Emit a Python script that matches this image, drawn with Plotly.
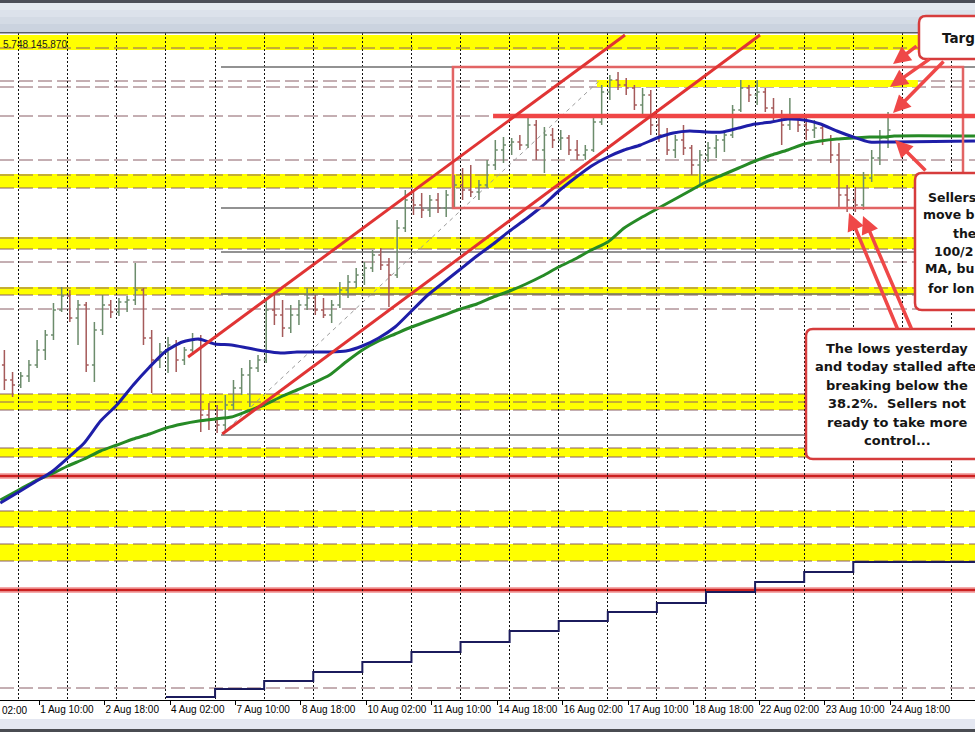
import plotly.graph_objects as go

# ---------------- data (USDJPY, 4-hour bars) ----------------
# x axis is an hourly bar index: 0 = 1 Aug 00:00, weekends removed
BAR0 = -7
BAR_STEP = 4

opens = [142.245, 142.02, 141.945, 142.08, 142.245, 142.47, 142.695, 143.07, 143.28, 142.95,
         143.145, 142.245, 142.77, 143.145, 143.04, 143.19, 143.22, 143.37, 142.65, 142.32,
         142.44, 142.545, 142.32, 142.47, 142.62, 141.495, 141.42, 141.345, 141.645, 141.90,
         142.095, 142.20, 142.32, 143.07, 142.995, 142.80, 142.995, 143.145, 143.25, 143.07,
         142.995, 143.145, 143.37, 143.49, 143.595, 143.70, 143.895, 143.745, 143.595, 144.30,
         144.72, 144.645, 144.57, 144.72, 144.60, 144.795, 144.945, 144.87, 144.84, 144.945,
         145.245, 145.47, 145.545, 145.59, 145.545, 145.845, 145.47, 145.695, 145.62, 145.65,
         145.47, 145.395, 145.47, 145.89, 146.34, 146.52, 146.445, 146.40, 146.145, 146.295,
         145.845, 145.695, 145.47, 145.62, 145.50, 145.245, 145.395, 145.50, 145.62, 145.695,
         146.07, 146.40, 146.295, 146.34, 146.10, 145.995, 145.845, 145.95, 145.845, 145.77,
         145.80, 145.62, 145.395, 144.795, 144.72, 144.645, 145.05, 145.35, 145.65]
highs = [142.47, 142.14, 142.14, 142.32, 142.62, 142.77, 143.175, 143.415, 143.37, 143.22,
         143.19, 142.89, 143.295, 143.22, 143.25, 143.28, 143.775, 143.40, 142.77, 142.575,
         142.665, 142.62, 142.515, 142.725, 142.695, 141.675, 141.645, 141.795, 142.02, 142.20,
         142.32, 142.395, 143.22, 143.295, 143.22, 143.145, 143.22, 143.40, 143.295, 143.25,
         143.22, 143.49, 143.595, 143.70, 143.79, 143.97, 144.00, 143.85, 144.42, 144.87,
         144.84, 144.825, 144.795, 144.825, 144.87, 145.095, 145.20, 145.245, 145.02, 145.32,
         145.62, 145.665, 145.65, 145.695, 145.95, 145.92, 145.815, 145.80, 145.77, 145.695,
         145.62, 145.545, 145.965, 146.445, 146.595, 146.64, 146.55, 146.445, 146.40, 146.37,
         145.95, 145.80, 145.695, 145.845, 145.545, 145.47, 145.59, 145.695, 145.77, 146.145,
         146.52, 146.445, 146.52, 146.40, 146.25, 146.07, 146.25, 145.995, 145.95, 145.92,
         145.845, 145.695, 145.575, 144.945, 144.915, 145.14, 145.47, 145.77, 146.04]
lows = [141.87, 141.765, 141.90, 141.99, 142.20, 142.32, 142.62, 143.04, 142.89, 142.545,
        142.14, 141.99, 142.695, 142.95, 142.98, 143.04, 143.145, 142.545, 141.825, 142.20,
        142.125, 142.14, 142.245, 142.395, 141.24, 141.27, 141.225, 141.225, 141.57, 141.795,
        141.615, 142.14, 142.275, 142.845, 142.665, 142.725, 142.845, 143.07, 142.995, 142.95,
        142.875, 143.10, 143.25, 143.40, 143.445, 143.64, 143.67, 143.115, 143.55, 144.24,
        144.495, 144.45, 144.465, 144.525, 144.465, 144.615, 144.72, 144.765, 144.72, 144.90,
        145.17, 145.275, 145.395, 145.47, 145.50, 145.32, 145.125, 145.50, 145.47, 145.395,
        145.32, 145.32, 145.44, 145.845, 146.22, 146.37, 146.295, 146.07, 145.995, 145.695,
        145.59, 145.395, 145.35, 145.395, 145.095, 144.945, 145.29, 145.35, 145.44, 145.65,
        146.04, 146.19, 146.145, 146.04, 145.89, 145.545, 145.77, 145.74, 145.62, 145.65,
        145.545, 145.275, 144.615, 144.54, 144.54, 144.57, 144.99, 145.245, 145.50]
closes = [142.02, 141.945, 142.08, 142.245, 142.47, 142.695, 143.07, 143.28, 142.95, 143.145,
          142.245, 142.77, 143.145, 143.04, 143.19, 143.22, 143.37, 142.65, 142.32, 142.44,
          142.545, 142.32, 142.47, 142.62, 141.495, 141.42, 141.345, 141.645, 141.90, 142.095,
          142.20, 142.32, 143.07, 142.995, 142.80, 142.995, 143.145, 143.25, 143.07, 142.995,
          143.145, 143.37, 143.49, 143.595, 143.70, 143.895, 143.745, 143.595, 144.30, 144.72,
          144.645, 144.57, 144.72, 144.60, 144.795, 144.945, 144.87, 144.84, 144.945, 145.245,
          145.47, 145.545, 145.59, 145.545, 145.845, 145.47, 145.695, 145.62, 145.65, 145.47,
          145.395, 145.47, 145.89, 146.34, 146.52, 146.445, 146.40, 146.145, 146.295, 145.845,
          145.695, 145.47, 145.62, 145.50, 145.245, 145.395, 145.50, 145.62, 145.695, 146.07,
          146.40, 146.295, 146.34, 146.10, 145.995, 145.845, 145.95, 145.845, 145.77, 145.80,
          145.62, 145.395, 144.795, 144.72, 144.645, 145.05, 145.35, 145.65, 145.77]

# moving averages (100-hour blue, 200-hour green), sampled every 8 hourly bars
ma_x = [-9] + list(range(0, 425, 8)) + [428, 467.5]
ma100 = [140.175, 140.34, 140.49, 140.64, 140.85, 141.075, 141.405, 141.645, 141.945, 142.215,
         142.455, 142.59, 142.635, 142.56, 142.545, 142.50, 142.455, 142.425, 142.44, 142.44,
         142.44, 142.455, 142.53, 142.65, 142.815, 143.055, 143.295, 143.49, 143.685, 143.88,
         144.06, 144.255, 144.435, 144.63, 144.855, 145.05, 145.23, 145.365, 145.47, 145.545,
         145.65, 145.725, 145.755, 145.74, 145.74, 145.80, 145.86, 145.89, 145.935, 145.92,
         145.86, 145.755, 145.665, 145.59, 145.59, 145.59, 145.605]
ma200 = [140.22, 140.37, 140.505, 140.61, 140.73, 140.835, 140.955, 141.045, 141.135, 141.21,
         141.30, 141.36, 141.405, 141.435, 141.465, 141.555, 141.645, 141.765, 141.87, 141.975,
         142.095, 142.29, 142.47, 142.605, 142.71, 142.815, 142.905, 142.995, 143.085, 143.16,
         143.265, 143.355, 143.46, 143.58, 143.715, 143.835, 143.97, 144.09, 144.30, 144.45,
         144.585, 144.72, 144.855, 144.99, 145.095, 145.20, 145.305, 145.395, 145.47, 145.56,
         145.605, 145.635, 145.65, 145.665, 145.665, 145.68, 145.68]

# daily stepped indicator at the bottom
daily_x = list(range(72, 409, 24)) + [467.5]
daily_level = [137.265, 137.385, 137.505, 137.64, 137.79, 137.94, 138.09, 138.255, 138.405,
               138.54, 138.675, 138.84, 138.99, 139.14, 139.29]

# time axis
tick_idx = list(range(10, 427, 32))
tick_text = ["1 Aug 10:00", "2 Aug 18:00", "4 Aug 02:00", "7 Aug 10:00", "8 Aug 18:00",
             "10 Aug 02:00", "11 Aug 10:00", "14 Aug 18:00", "16 Aug 02:00", "17 Aug 10:00",
             "18 Aug 18:00", "22 Aug 02:00", "23 Aug 10:00", "24 Aug 18:00"]
first_tick_text = "02:00"            # visible part of the label cut by the left edge
day_idx = list(range(0, 467, 24))
X_RANGE = [-9.142, 467.51]
Y_RANGE = [137.22, 147.225]

# horizontal levels
yellow_bands = [(146.97, 147.195), (144.90, 145.11), (143.985, 144.165), (143.295, 143.415),
                (141.57, 141.81), (140.865, 141.00), (139.815, 140.055), (139.305, 139.56)]
partial_band = (146.415, 146.52, 282.7, 439.6)        # low, high, from bar, to bar
dash_levels = [147.00, 146.505, 146.415, 145.98, 145.32, 145.095, 144.90, 144.15, 143.985,
               143.79, 143.40, 143.295, 143.085, 141.81, 141.69, 141.57, 141.00, 140.865,
               140.055, 139.815, 139.56, 139.305, 137.40]
fib_start = 98.9
fib_levels = [146.715, 144.60, 143.94, 143.31, 141.195]
red_levels = [140.58, 138.87]
target_level, target_start = 145.98, 231.9
range_box = (212.3, 461.65, 144.60, 146.715)           # x0, x1, y0, y1
channel_upper = [(82.8, 142.365), (296.4, 147.195)]
channel_lower = [(99.5, 141.21), (362.4, 147.195)]
fib_diag = [(99.4, 141.21), (284.2, 146.52)]

# ---------------- layout helpers (pixel -> paper) ----------------
W, H = 975, 732
TOP, BOT = 33, 700


def px(x):
    return x / W


def py(y):
    return 1 - (y - TOP) / (BOT - TOP)


def rrect(x0, y0, x1, y1, r=7):
    def P(x, y):
        return f"{px(x):.5f},{py(y):.5f}"
    return (f"M {P(x0 + r, y0)} L {P(x1 - r, y0)} Q {P(x1, y0)} {P(x1, y0 + r)} "
            f"L {P(x1, y1 - r)} Q {P(x1, y1)} {P(x1 - r, y1)} L {P(x0 + r, y1)} "
            f"Q {P(x0, y1)} {P(x0, y1 - r)} L {P(x0, y0 + r)} Q {P(x0, y0)} {P(x0 + r, y0)} Z")


bar_x = [BAR0 + BAR_STEP * k for k in range(len(closes))]

fig = go.Figure()
fig.add_trace(go.Ohlc(x=bar_x, open=opens, high=highs, low=lows, close=closes,
                      increasing=dict(line=dict(color="#6c8c6c", width=1.5)),
                      decreasing=dict(line=dict(color="#a55a5a", width=1.5)),
                      tickwidth=0.3, showlegend=False, hoverinfo="skip"))
fig.add_trace(go.Scatter(x=ma_x, y=ma200, mode="lines", showlegend=False, hoverinfo="skip",
                         line=dict(color="#268a26", width=3, shape="spline", smoothing=0.6)))
fig.add_trace(go.Scatter(x=ma_x, y=ma100, mode="lines", showlegend=False, hoverinfo="skip",
                         line=dict(color="#1e1ea8", width=3, shape="spline", smoothing=0.6)))
fig.add_trace(go.Scatter(x=daily_x, y=daily_level + [daily_level[-1]], mode="lines",
                         showlegend=False, hoverinfo="skip",
                         line=dict(color="#1b1b5c", width=2, shape="hv")))

shapes = []
# header / footer chrome
header = [(0, 3, "#4c4f58"), (3, 10, "#e4e9f0"), (10, 17, "#dce2eb"), (17, 24, "#d4dbe5"),
          (24, 32, "#cbd3df"), (32, 33.5, "#5a5f68")]
for y0, y1, c in header:
    shapes.append(dict(type="rect", xref="paper", yref="paper", x0=0, x1=1, y0=py(y1), y1=py(y0),
                       fillcolor=c, line=dict(width=0), layer="above"))
footer = [(719, 729, "#e4e7f1"), (729, 732, "#4a4c52")]
for y0, y1, c in footer:
    shapes.append(dict(type="rect", xref="paper", yref="paper", x0=0, x1=1, y0=py(y1), y1=py(y0),
                       fillcolor=c, line=dict(width=0), layer="below"))

for lo, hi in yellow_bands:
    shapes.append(dict(type="rect", xref="paper", yref="y", x0=0, x1=1, y0=lo, y1=hi,
                       fillcolor="#ffff00", line=dict(width=0), layer="below"))
lo, hi, b0, b1 = partial_band
shapes.append(dict(type="rect", xref="x", yref="y", x0=b0, x1=b1, y0=lo, y1=hi,
                   fillcolor="#ffff00", line=dict(width=0), layer="below"))
for lv in dash_levels:
    shapes.append(dict(type="line", xref="paper", yref="y", x0=0, x1=1, y0=lv, y1=lv,
                       line=dict(color="#8a5f66", width=1, dash="14px,5px"), layer="below"))
for lv in fib_levels:
    shapes.append(dict(type="line", xref="x", yref="y", x0=fib_start, x1=X_RANGE[1], y0=lv, y1=lv,
                       line=dict(color="#6e6e6e", width=1.6), layer="between"))
for lv in red_levels:
    shapes.append(dict(type="line", xref="paper", yref="y", x0=0, x1=1, y0=lv, y1=lv,
                       line=dict(color="#f5aaaa", width=6), layer="between"))
    shapes.append(dict(type="line", xref="paper", yref="y", x0=0, x1=1, y0=lv, y1=lv,
                       line=dict(color="#cc2020", width=2.5), layer="between"))
(a, b) = fib_diag
shapes.append(dict(type="line", xref="x", yref="y", x0=a[0], y0=a[1], x1=b[0], y1=b[1],
                   line=dict(color="#9c9c9c", width=1, dash="4px,4px"), layer="between"))
shapes.append(dict(type="rect", xref="x", yref="y", x0=range_box[0], x1=range_box[1],
                   y0=range_box[2], y1=range_box[3], line=dict(color="#e26464", width=2.5),
                   layer="above"))
shapes.append(dict(type="line", xref="x", yref="y", x0=target_start, x1=X_RANGE[1],
                   y0=target_level, y1=target_level, line=dict(color="#f04646", width=4.5),
                   layer="above"))
for (a, b) in (channel_upper, channel_lower):
    shapes.append(dict(type="line", xref="x", yref="y", x0=a[0], y0=a[1], x1=b[0], y1=b[1],
                       line=dict(color="#e03434", width=3), layer="above"))

# note boxes
for (x0, y0, x1, y1) in [(919, 16, 1060, 59), (915, 173, 1060, 310), (806, 329, 1000, 459)]:
    shapes.append(dict(type="path", xref="paper", yref="paper", path=rrect(x0, y0, x1, y1),
                       fillcolor="white", line=dict(color="#d63c3c", width=2.5), layer="above"))

ann = []
# arrows (head -> tail, pixels)
arrows = [((893, 64), (918, 45)), ((890, 87), (931, 58)), ((893, 113), (945, 60)),
          ((895, 140), (927, 172)), ((849, 213), (898, 330)), ((863, 216), (912, 330))]
for (hx, hy), (tx, ty) in arrows:
    ann.append(dict(x=px(hx), y=py(hy), xref="paper", yref="paper", ax=tx - hx, ay=ty - hy,
                    axref="pixel", ayref="pixel", text="", showarrow=True, arrowhead=2,
                    arrowsize=1.0, arrowwidth=3.5, arrowcolor="#ef4848", standoff=0))

BF = dict(family="DejaVu Sans", size=13, color="#151515")
SF = dict(family="DejaVu Sans", size=12.5, color="#151515")
ann.append(dict(x=px(940), y=py(38), xref="paper", yref="paper", xanchor="left", yanchor="middle",
                text="<b>Targ</b>", showarrow=False,
                font=dict(family="DejaVu Sans", size=13.5, color="#151515")))
# the notes run past the right edge of the screenshot: only their visible parts are kept
sellers_lines = [("Sellers", 926, 197), ("move b", 921, 215), ("the", 951, 233),
                 ("100/2", 932, 251), ("MA, bu", 923, 269), ("for lon", 926, 288)]
for t, x, y in sellers_lines:
    ann.append(dict(x=px(x), y=py(y), xref="paper", yref="paper", xanchor="left",
                    yanchor="middle", text=f"<b>{t}</b>", showarrow=False, font=SF))
lows_lines = [("The lows yesterday", "center", 897, 348),
              ("and today stalled afte", "left", 813, 366),
              ("breaking below the", "center", 897, 385),
              ("38.2%.&nbsp; Sellers not", "center", 897, 403),
              ("ready to take more", "center", 897, 422),
              ("control...", "center", 897, 440)]
for t, anc, x, y in lows_lines:
    ann.append(dict(x=px(x), y=py(y), xref="paper", yref="paper", xanchor=anc,
                    yanchor="middle", text=f"<b>{t}</b>", showarrow=False, font=BF))

ann.append(dict(x=px(1), y=py(44), xref="paper", yref="paper", xanchor="left", yanchor="middle",
                text="5.748 145.870", showarrow=False,
                font=dict(family="Liberation Sans", size=10, color="#202020")))
ann.append(dict(x=px(0), y=py(710), xref="paper", yref="paper", xanchor="left",
                yanchor="middle", text=first_tick_text, showarrow=False,
                font=dict(family="Liberation Sans", size=10, color="black")))

fig.update_layout(
    width=W, height=H, margin=dict(l=0, r=0, t=TOP, b=H - BOT),
    paper_bgcolor="white", plot_bgcolor="white", showlegend=False,
    shapes=shapes, annotations=ann,
    xaxis=dict(range=X_RANGE, showgrid=False, zeroline=False, tickmode="array",
               tickvals=tick_idx, ticktext=tick_text, ticks="outside", ticklen=4,
               tickcolor="black", showline=True, linecolor="black", linewidth=1,
               ticklabelposition="outside right", tickangle=0,
               tickfont=dict(family="Liberation Sans", size=10, color="black"),
               minor=dict(tickmode="array", tickvals=day_idx, showgrid=True, gridcolor="#111111",
                          griddash="2px,2px", gridwidth=1, ticks=""),
               rangeslider=dict(visible=False), fixedrange=True),
    yaxis=dict(range=Y_RANGE, visible=False, showgrid=False, zeroline=False, fixedrange=True),
)

fig.write_html("out.html", config={"displayModeBar": False},
               post_script="document.body.style.margin='0';document.body.style.overflow='hidden';")
